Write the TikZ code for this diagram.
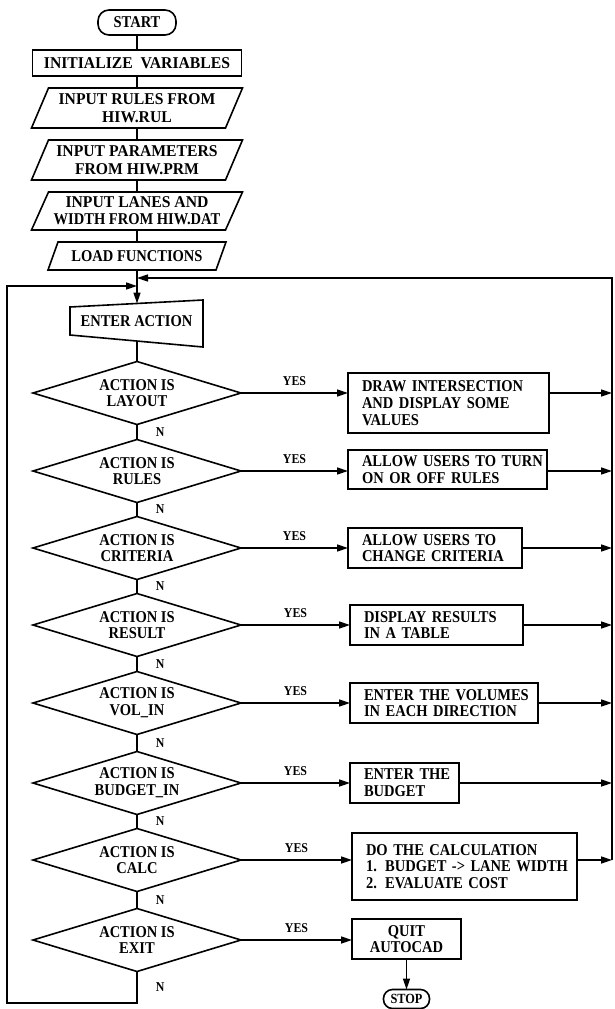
\documentclass[tikz,border=0pt]{standalone}
\usepackage{fontspec}
\setmainfont{Liberation Serif}[FakeStretch=0.88]
\newfontfamily\widefam{Liberation Serif}[FakeStretch=0.95]
\usetikzlibrary{shapes.geometric,arrows.meta,calc}
\newcommand\fsmain{\fontsize{16.5}{16.7}\selectfont\bfseries}
\newcommand\fswide{\widefam\fontsize{16.5}{17.7}\selectfont\bfseries}
\newcommand\fssmall{\fontsize{13.5}{14}\selectfont\bfseries}
\newcommand\fsstop{\fontsize{14}{14}\selectfont\bfseries}
\begin{document}
\begin{tikzpicture}[x=1pt,y=-1pt, line width=1.6pt,
  arr/.style={-{Triangle[length=11pt,width=7pt]}},
  txt/.style={font=\fsmain, align=center, inner sep=0pt, outer sep=0pt},
  term/.style={draw, rounded corners=11pt, font=\fsmain, inner sep=0pt, outer sep=0pt},
  procbox/.style={draw, font=\fsmain, align=center, inner sep=0pt, outer sep=0pt},
  rbox/.style={draw, font=\fsmain, align=left, inner xsep=14pt, inner ysep=0pt, outer sep=0pt, anchor=north west},
  dec/.style={draw, shape=diamond, aspect=3.3, minimum width=208pt, minimum height=63pt, inner sep=0pt, outer sep=0pt, font=\fsmain, align=center},
  ylbl/.style={font=\fssmall, above=7pt, inner sep=0pt},
  nlbl/.style={font=\fssmall, right=18pt, inner sep=0pt}
]
\useasboundingbox[fill=white] (0,0) rectangle (614,1009);

% top chain
\node[term, minimum width=78pt, minimum height=25pt] (start) at (137,22.5) {START};
\node[procbox, font=\fswide, minimum width=209pt, minimum height=26pt] (init) at (137,63) {INITIALIZE\ \ VARIABLES};

\node[txt, font=\fswide, minimum width=211pt, minimum height=40pt] (p1) at (137,108) {INPUT RULES FROM\\HIW.RUL};
\draw ([xshift=17pt]p1.north west) -- (p1.north east) -- ([xshift=-17pt]p1.south east) -- (p1.south west) -- cycle;

\node[txt, font=\fswide, minimum width=211pt, minimum height=40pt] (p2) at (137,160) {INPUT PARAMETERS\\FROM HIW.PRM};
\draw ([xshift=17pt]p2.north west) -- (p2.north east) -- ([xshift=-17pt]p2.south east) -- (p2.south west) -- cycle;

\node[txt, minimum width=211pt, minimum height=38pt] (p3) at (137,211) {{\fswide INPUT LANES AND}\\WIDTH FROM HIW.DAT};
\draw ([xshift=17pt]p3.north west) -- (p3.north east) -- ([xshift=-17pt]p3.south east) -- (p3.south west) -- cycle;

\node[txt, minimum width=178pt, minimum height=28pt] (load) at (137,256) {LOAD FUNCTIONS};
\draw ([xshift=10pt]load.north west) -- (load.north east) -- ([xshift=-10pt]load.south east) -- (load.south west) -- cycle;

\draw (start) -- (init);
\draw (init) -- (p1);
\draw (p1) -- (p2);
\draw (p2) -- (p3);
\draw (p3) -- (load);

% enter action (manual input)
\node[txt, minimum width=133pt, minimum height=28pt] (enter) at (136.5,321) {ENTER ACTION};
\draw ($(enter.center)+(-66.5,-14)$) -- ($(enter.center)+(66.5,-21)$) -- ($(enter.center)+(66.5,26)$) -- ($(enter.center)+(-66.5,14)$) -- cycle;
\coordinate (entertop) at (137,303.5);
\coordinate (enterbot) at (137,341);

% decisions
\node[dec] (d1) at (137,393) {ACTION IS\\LAYOUT};
\node[dec] (d2) at (137,471) {ACTION IS\\RULES};
\node[dec] (d3) at (137,548) {ACTION IS\\CRITERIA};
\node[dec] (d4) at (137,625) {ACTION IS\\RESULT};
\node[dec] (d5) at (137,703) {ACTION IS\\VOL\_IN};
\node[dec] (d6) at (137,783) {ACTION IS\\BUDGET\_IN};
\node[dec] (d7) at (137,860) {ACTION IS\\CALC};
\node[dec] (d8) at (137,940) {ACTION IS\\EXIT};

% right boxes
\node[rbox, text width=173pt, minimum height=60pt] (b1) at (348,373) {\mbox{DRAW INTERSECTION}\\\mbox{AND DISPLAY SOME}\\VALUES};
\node[rbox, text width=171pt, minimum height=39pt] (b2) at (348,450) {\mbox{ALLOW USERS TO TURN}\\\mbox{ON OR OFF RULES}};
\node[rbox, text width=146pt, minimum height=40pt] (b3) at (348,528) {\mbox{ALLOW USERS TO}\\\mbox{CHANGE CRITERIA}};
\node[rbox, text width=145pt, minimum height=40pt] (b4) at (350,605) {\mbox{DISPLAY RESULTS}\\\mbox{IN A TABLE}};
\node[rbox, text width=160pt, minimum height=40pt] (b5) at (350,683) {\mbox{ENTER THE VOLUMES}\\\mbox{IN EACH DIRECTION}};
\node[rbox, text width=81pt, minimum height=40pt] (b6) at (350,763) {\mbox{ENTER THE}\\\mbox{BUDGET}};
\node[rbox, text width=197pt, minimum height=67pt] (b7) at (352,833) {\mbox{DO THE CALCULATION}\\\mbox{1. BUDGET -> LANE WIDTH}\\\mbox{2. EVALUATE COST}};
\node[procbox, anchor=north west, minimum width=109pt, minimum height=40pt] (b8) at (352,919) {QUIT\\AUTOCAD};
\node[term, rounded corners=9pt, font=\fsstop, minimum width=46pt, minimum height=19pt] (stop) at (406.5,999) {STOP};

% loop coordinates
\coordinate (rtop) at (612,278);
\coordinate (ltop) at (7,286);
\coordinate (lbot) at (7,1003);

% main flow
\draw[arr] (load) -- (entertop);
\draw (enterbot) -- (d1.north);
\draw (d1.south) -- node[nlbl] (n1) {N} (d2.north);
\draw (d2.south) -- node[nlbl] (n2) {N} (d3.north);
\draw (d3.south) -- node[nlbl] (n3) {N} (d4.north);
\draw (d4.south) -- node[nlbl] (n4) {N} (d5.north);
\draw (d5.south) -- node[nlbl] (n5) {N} (d6.north);
\draw (d6.south) -- node[nlbl] (n6) {N} (d7.north);
\draw (d7.south) -- node[nlbl] (n7) {N} (d8.north);

% yes branches
\draw[arr] (d1.east) -- node[ylbl] (y1) {YES} (d1.east -| b1.west);
\draw[arr] (d2.east) -- node[ylbl] (y2) {YES} (d2.east -| b2.west);
\draw[arr] (d3.east) -- node[ylbl] (y3) {YES} (d3.east -| b3.west);
\draw[arr] (d4.east) -- node[ylbl] (y4) {YES} (d4.east -| b4.west);
\draw[arr] (d5.east) -- node[ylbl] (y5) {YES} (d5.east -| b5.west);
\draw[arr] (d6.east) -- node[ylbl] (y6) {YES} (d6.east -| b6.west);
\draw[arr] (d7.east) -- node[ylbl] (y7) {YES} (d7.east -| b7.west);
\draw[arr] (d8.east) -- node[ylbl] (y8) {YES} (d8.east -| b8.west);

% outputs to right return line
\draw[arr] (d1.east -| b1.east) -- (d1.east -| rtop);
\draw[arr] (d2.east -| b2.east) -- (d2.east -| rtop);
\draw[arr] (d3.east -| b3.east) -- (d3.east -| rtop);
\draw[arr] (d4.east -| b4.east) -- (d4.east -| rtop);
\draw[arr] (d5.east -| b5.east) -- (d5.east -| rtop);
\draw[arr] (d6.east -| b6.east) -- (d6.east -| rtop);
\draw[arr] (d7.east -| b7.east) -- (d7.east -| rtop);
\draw[arr] (d7.east -| rtop) -- (rtop) -- (rtop -| load.south);

% quit -> stop
\draw[arr] (b8) -- (stop);

% exit loop back
\draw[arr] (d8.south) -- node[nlbl] (n8) {N} (d8.south |- lbot) -- (lbot) -- (ltop) -- (ltop -| load.south);
\end{tikzpicture}
\end{document}
